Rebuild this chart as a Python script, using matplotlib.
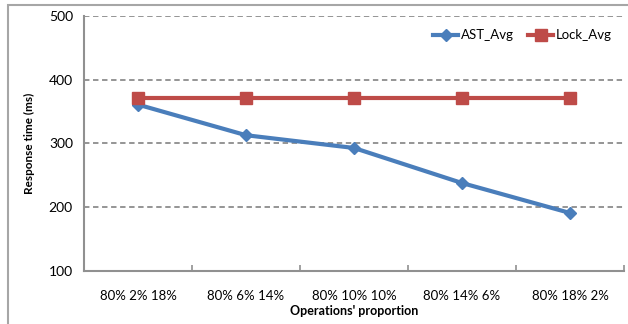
import matplotlib.pyplot as plt
from matplotlib.patches import Rectangle

categories = ['80% 2% 18%', '80% 6% 14%', '80% 10% 10%', '80% 14% 6%', '80% 18% 2%']
ast_avg = [361, 313, 293, 238, 191]
lock_avg = [371, 371, 371, 371, 371]

plt.rcParams['font.family'] = ['Lato', 'DejaVu Sans']

fig = plt.figure(figsize=(6.28, 3.24), dpi=100)
# outer chart frame
fig.patches.append(Rectangle((8 / 628, -0.1), 1.2, 1.1 - 5 / 324, transform=fig.transFigure,
                             fill=False, edgecolor='#a6a6a6', linewidth=1.5))

ax = fig.add_axes([84 / 628, 53 / 324, 540 / 628, 255 / 324])
x = list(range(len(categories)))

ax.plot(x, ast_avg, color='#4a7ebb', linewidth=3, marker='D', markersize=6, label='AST_Avg', zorder=3)
ax.plot(x, lock_avg, color='#be4b48', linewidth=3, marker='s', markersize=8, label='Lock_Avg', zorder=4)

ax.set_xlim(-0.5, 4.5)
ax.set_ylim(100, 500)
ax.set_yticks([100, 200, 300, 400, 500])
ax.set_xticks(x)
ax.set_xticklabels(categories)
ax.set_xticks([i + 0.5 for i in x], minor=True)
ax.tick_params(axis='x', which='major', length=0, pad=14, labelsize=9.5)
ax.tick_params(axis='x', which='minor', direction='in', length=4, color='#909090', width=1.2)
ax.tick_params(axis='y', length=0, pad=8, labelsize=10)

for v in [200, 300, 400, 500]:
    ax.axhline(v, color='#8c8c8c', linestyle=(0, (3, 2)), linewidth=1.3, zorder=1)

for s in ['top', 'right']:
    ax.spines[s].set_visible(False)
for s in ['left', 'bottom']:
    ax.spines[s].set_color('#909090')
    ax.spines[s].set_linewidth(1.5)

ax.set_ylabel('Response time (ms)', fontsize=8.5, fontweight='bold', labelpad=10)
ax.set_xlabel("Operations' proportion", fontsize=9, fontweight='bold', labelpad=2)

ax.legend(loc='upper right', bbox_to_anchor=(1.0, 0.995), ncol=2, frameon=False, fontsize=9.5,
          handlelength=1.9, handletextpad=0.2, columnspacing=1.1)

fig.savefig('out.png', dpi=100)
